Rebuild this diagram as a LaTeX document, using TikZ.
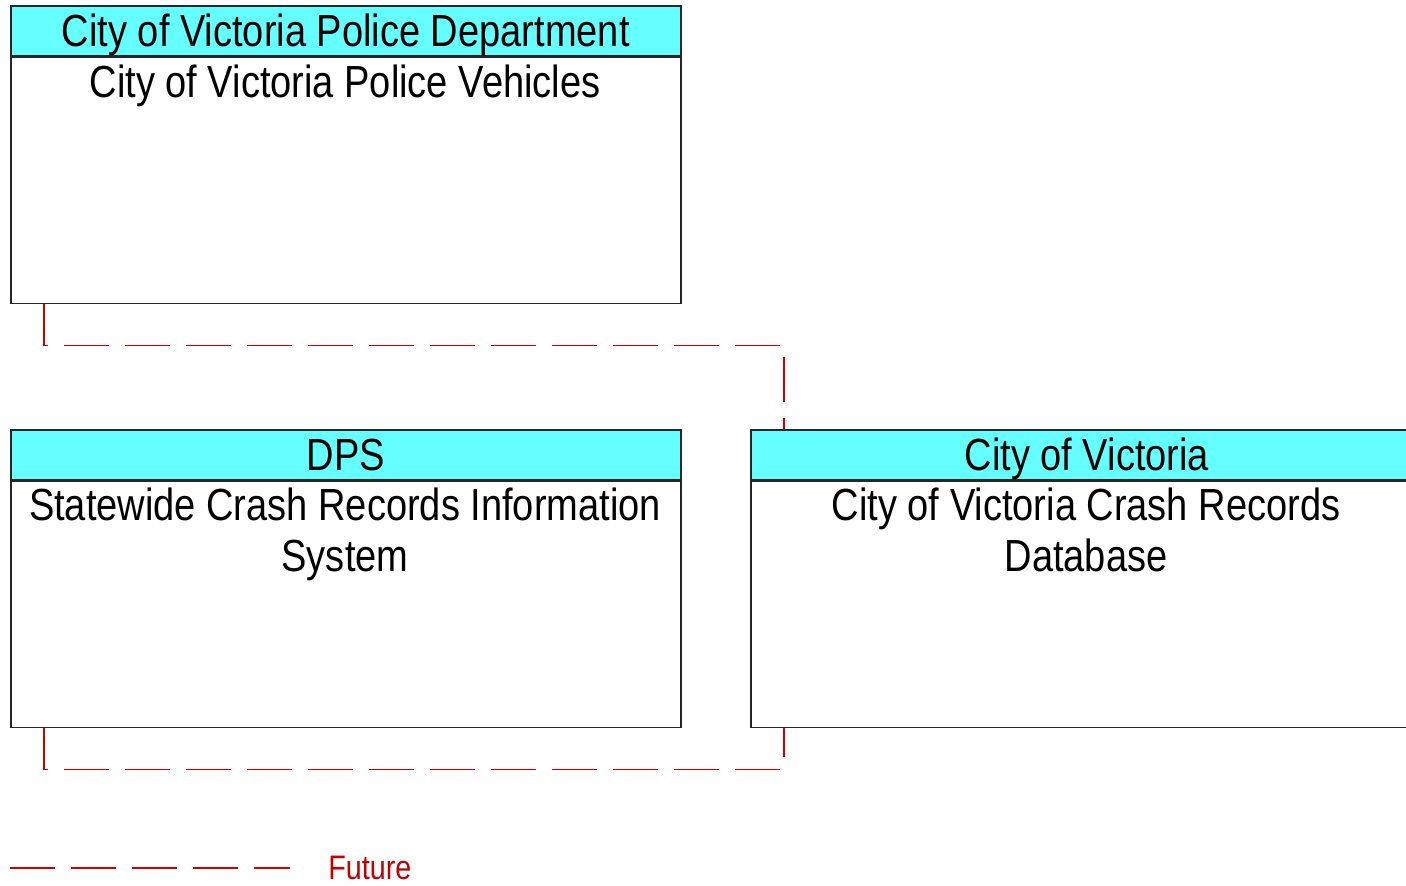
\documentclass[tikz,border=0pt]{standalone}
\usepackage{fontspec}
\setmainfont{Liberation Sans}[FakeStretch=0.845]
\usetikzlibrary{positioning}

\definecolor{hdrCyan}{HTML}{66FFFF}
\definecolor{futRed}{HTML}{CC0000}

\begin{document}
\begin{tikzpicture}[
    x=0.5pt, y=-0.5pt,
    hdr/.style={draw=black!85, line width=0.8pt, fill=hdrCyan,
                minimum width=335pt, minimum height=25pt,
                inner sep=0pt, anchor=north west,
                text height=16pt, text depth=0pt,
                font=\fontsize{22.5}{25.5}\selectfont},
    body/.style={draw=black!85, line width=0.8pt, fill=white,
                 minimum width=335pt, minimum height=123pt,
                 inner sep=0pt},
    btxt/.style={inner sep=0pt, anchor=north, align=center,
                 font=\fontsize{22.5}{25.5}\selectfont},
    future/.style={futRed, line width=0.6pt,
                   dash pattern=on 22.5pt off 8pt},
]

\useasboundingbox (0,0) rectangle (1406,885);

% Police (top left)
\node[hdr] (policeHdr) at (10,5) {City of Victoria Police Department};
\node[body, below=0pt of policeHdr] (police) {};
\node[btxt] (policeTxt) at (345,64) {City of Victoria Police Vehicles};

% DPS (bottom left)
\node[hdr] (dpsHdr) at (10,429) {DPS};
\node[body, below=0pt of dpsHdr] (dps) {};
\node[btxt] (dpsTxt) at (345,487)
    {Statewide Crash Records Information\\System};

% City crash records (bottom right), runs past the right edge
\begin{scope}
\clip (0,0) rectangle (1406,885);
\node[hdr, minimum width=336pt] (cityHdr) at (750,429) {City of Victoria};
\node[body, minimum width=336pt, below=0pt of cityHdr] (city) {};
\end{scope}
\node[btxt] (cityTxt) at (1086,487)
    {City of Victoria Crash Records\\Database};

% Future flows
\coordinate (p1) at ([xshift=17pt]police.south west);
\coordinate (c1) at ([xshift=17pt]cityHdr.north west);
\draw[future] (p1) -- ++(0,41) -| (c1);

\coordinate (d1) at ([xshift=17pt]dps.south west);
\coordinate (c2) at ([xshift=17pt]city.south west);
\draw[future] (d1) -- ++(0,41) -| (c2);

% Legend
\coordinate (legA) at (10,868);
\coordinate (legB) at (290,868);
\draw[future] (legA) -- (legB);
\node[anchor=base west, inner sep=0pt, text=futRed!95!black,
      font=\fontsize{17}{19}\selectfont] (legTxt) at (328,879) {Future};

\end{tikzpicture}
\end{document}
